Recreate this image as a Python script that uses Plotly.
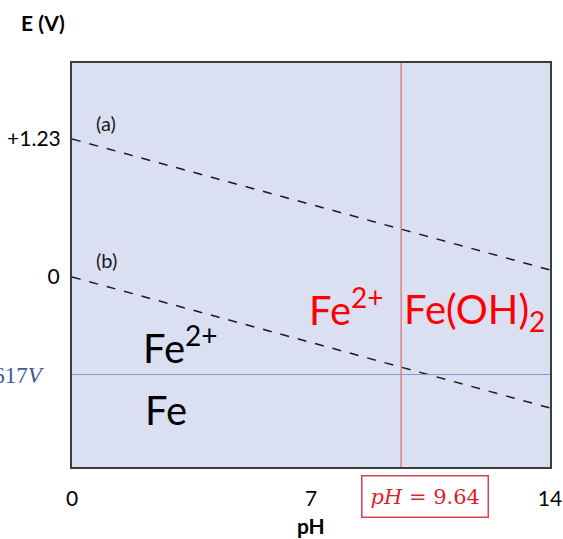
import plotly.graph_objects as go

# Pourbaix (E-pH) diagram for iron, [Fe2+] = 1e-6 M
ph_range = [0, 14]
water_a = [1.23, 1.23 - 0.0592 * 14]      # O2/H2O line (a)
water_b = [0.0, -0.0592 * 14]             # H+/H2 line (b)
e_fe = -0.617                              # Fe2+/Fe boundary (V)
ph_fe_oh2 = 9.64                           # Fe2+/Fe(OH)2 boundary
x_ticks = [0, 7, 14]
x_ticktext = ["0", "7", "14"]
y_ticks = [0]
y_ticktext = ["0"]
y_ticks_upper = [1.23]
y_ticktext_upper = ["+1.23"]

W, H = 563, 539
L, R, T, B = 72, 13, 63, 72
pw, ph = W - L - R, H - T - B


def px(x):
    return (x - L) / pw


def py(y):
    return (H - B - y) / ph


FONT = "Lato, Carlito, Calibri, sans-serif"
SERIF = "DejaVu Serif, Liberation Serif, serif"
SERIF_NARROW = "Liberation Serif, DejaVu Serif, serif"


def label(x, y, text, size, color, family=FONT, **kw):
    return dict(x=px(x), y=py(y), xref="paper", yref="paper",
                xanchor=kw.pop("xanchor", "center"), yanchor="middle",
                text=text, showarrow=False,
                font=dict(family=family, size=size, color=color), **kw)


fig = go.Figure()
# the O2/H2O line sits on a broken-off upper E scale (same V per pixel)
fig.add_trace(go.Scatter(x=ph_range, y=water_a, mode="lines", yaxis="y2",
                         line=dict(color="#1a1a1a", width=1.5, dash="dash"),
                         hoverinfo="skip"))
fig.add_trace(go.Scatter(x=ph_range, y=water_b, mode="lines",
                         line=dict(color="#1a1a1a", width=1.5, dash="dash"),
                         hoverinfo="skip"))
fig.add_trace(go.Scatter(x=ph_range, y=[e_fe, e_fe], mode="lines",
                         line=dict(color="#7d9bd0", width=1.2),
                         hoverinfo="skip"))
fig.add_trace(go.Scatter(x=[ph_fe_oh2, ph_fe_oh2], y=[-2, 2], mode="lines",
                         line=dict(color="#e77c84", width=1.5),
                         hoverinfo="skip"))

ann = []
# line tags
ann.append(dict(x=1.0, y=water_a[0], yref="y2", yshift=16, text="(a)",
                showarrow=False, xanchor="center", yanchor="middle",
                font=dict(family=FONT, size=20, color="#1a1a1a")))
ann.append(dict(x=1.0, y=water_b[0], yshift=17, text="(b)", showarrow=False,
                xanchor="center", yanchor="middle",
                font=dict(family=FONT, size=20, color="#1a1a1a")))
# region labels
ann.append(label(180, 345, "Fe<sup>2+</sup>", 40, "#000000"))
ann.append(label(166, 410, "Fe", 40, "#000000"))
ann.append(label(346, 307, "Fe<sup>2+</sup>", 40, "#ff0000"))
ann.append(label(474, 311, "Fe(OH)<sub>2</sub>", 40, "#ff0000"))
# boundary value labels
ann.append(label(425, 496, "<i>pH</i> = 9.64", 21, "#dd1f2a", SERIF,
                 bordercolor="#d4424c", borderwidth=1.5, borderpad=8,
                 bgcolor="#ffffff"))
ann.append(label(47, 375, "−0.617<i>V</i>", 23, "#3f5b91", SERIF_NARROW,
                 xanchor="right"))
# axis titles
ann.append(label(43, 23, "<b>E (V)</b>", 21, "#000000"))
ann.append(label(311, 525, "<b>pH</b>", 21, "#000000"))

k = 158.0  # pixels per volt
y0_px = 277     # E = 0 on the main scale
ya_px = 139     # E = +1.23 on the upper scale
y_range = [-(H - B - y0_px) / k, (y0_px - T) / k]
y2_range = [1.23 - (H - B - ya_px) / k, 1.23 + (ya_px - T) / k]

tickfont = dict(family=FONT, size=21, color="#000000")
fig.update_layout(
    template="none",
    width=W, height=H, autosize=False,
    margin=dict(l=L, r=R, t=T, b=B, pad=0),
    paper_bgcolor="#ffffff", plot_bgcolor="#dae0f2",
    showlegend=False, annotations=ann,
    xaxis=dict(range=ph_range, tickvals=x_ticks, ticktext=x_ticktext,
               automargin=False,
               showgrid=False, zeroline=False, showline=True, mirror=True,
               linecolor="#3c3c3c", linewidth=2, ticks="outside", ticklen=12,
               tickcolor="rgba(0,0,0,0)", tickfont=tickfont),
    yaxis=dict(range=y_range, tickvals=y_ticks, ticktext=y_ticktext,
               automargin=False,
               showgrid=False, zeroline=False, showline=True, mirror=True,
               linecolor="#3c3c3c", linewidth=2, ticks="outside", ticklen=6,
               tickcolor="rgba(0,0,0,0)", tickfont=tickfont),
    yaxis2=dict(range=y2_range, tickvals=y_ticks_upper,
                ticktext=y_ticktext_upper, overlaying="y", side="left",
                automargin=False, showgrid=False, zeroline=False,
                showline=False, ticks="outside", ticklen=6,
                tickcolor="rgba(0,0,0,0)", tickfont=tickfont),
)

fig.write_html("out.html")
